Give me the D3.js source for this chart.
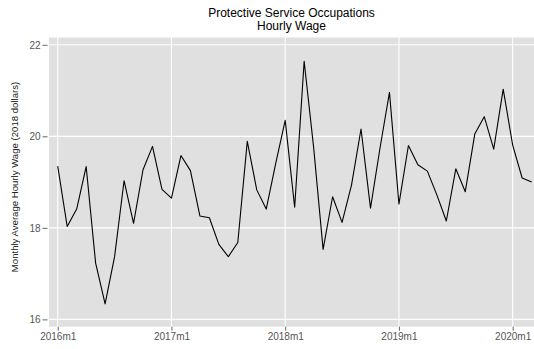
<!DOCTYPE html>
<html>
<head>
<meta charset="utf-8">
<script src="https://cdn.jsdelivr.net/npm/d3@7"></script>
<style>
  body { margin: 0; background: #fff; }
  text { font-family: "Liberation Sans", Arial, Helvetica, sans-serif; }
</style>
</head>
<body>
<svg id="chart" width="534" height="349"></svg>
<script>
// Months from 2016m1 to 2020m3
const months = [
  "2016m1","2016m2","2016m3","2016m4","2016m5","2016m6","2016m7","2016m8","2016m9","2016m10","2016m11","2016m12",
  "2017m1","2017m2","2017m3","2017m4","2017m5","2017m6","2017m7","2017m8","2017m9","2017m10","2017m11","2017m12",
  "2018m1","2018m2","2018m3","2018m4","2018m5","2018m6","2018m7","2018m8","2018m9","2018m10","2018m11","2018m12",
  "2019m1","2019m2","2019m3","2019m4","2019m5","2019m6","2019m7","2019m8","2019m9","2019m10","2019m11","2019m12",
  "2020m1","2020m2","2020m3"
];
const wages = [
  19.35, 18.03, 18.41, 19.34, 17.23, 16.34, 17.37, 19.03, 18.10, 19.27, 19.78, 18.84,
  18.65, 19.58, 19.25, 18.26, 18.22, 17.64, 17.37, 17.68, 19.89, 18.83, 18.41, 19.41,
  20.35, 18.45, 21.64, 19.76, 17.53, 18.68, 18.12, 18.94, 20.16, 18.43, 19.74, 20.96,
  18.52, 19.80, 19.38, 19.24, 18.72, 18.15, 19.29, 18.79, 20.05, 20.43, 19.72, 21.03,
  19.81, 19.09, 19.00
];
const xTickLabels = ["2016m1","2017m1","2018m1","2019m1","2020m1"];
const yTicks = [16, 18, 20, 22];
const titleLines = ["Protective Service Occupations", "Hourly Wage"];
const yLabel = "Monthly Average Hourly Wage (2018 dollars)";

const svg = d3.select("#chart");
const panel = { left: 49, right: 534, top: 37.5, bottom: 326.7 };

const x = d3.scaleLinear().domain([-0.92, 50.25]).range([panel.left, panel.right]);
const y = d3.scaleLinear().domain([15.84, 22.16]).range([panel.bottom, panel.top]);

// Panel background
svg.append("rect")
  .attr("x", panel.left).attr("y", panel.top)
  .attr("width", panel.right - panel.left).attr("height", panel.bottom - panel.top)
  .attr("fill", "#e0e0e0");

const xTickIdx = xTickLabels.map(l => months.indexOf(l));

// Grid lines
svg.append("g").selectAll("line").data(yTicks).join("line")
  .attr("x1", panel.left).attr("x2", panel.right)
  .attr("y1", d => y(d)).attr("y2", d => y(d))
  .attr("stroke", "#fff").attr("stroke-width", 1.1);
svg.append("g").selectAll("line").data(xTickIdx).join("line")
  .attr("y1", panel.top).attr("y2", panel.bottom)
  .attr("x1", d => x(d)).attr("x2", d => x(d))
  .attr("stroke", "#fff").attr("stroke-width", 1.1);

// Axes
const xAxis = d3.axisBottom(x).tickValues(xTickIdx).tickFormat(i => months[i]).tickSize(4).tickPadding(2);
const gx = svg.append("g").attr("transform", `translate(0,${panel.bottom})`).call(xAxis);
gx.select(".domain").remove();
gx.selectAll(".tick line").attr("stroke", "#666");
gx.selectAll(".tick text").attr("fill", "#555").attr("font-size", 10)
  .attr("font-family", "Liberation Sans, Arial, sans-serif");

const yAxis = d3.axisLeft(y).tickValues(yTicks).tickFormat(d3.format("d")).tickSize(5).tickPadding(2);
const gy = svg.append("g").attr("transform", `translate(${panel.left - 1.5},0)`).call(yAxis);
gy.select(".domain").remove();
gy.selectAll(".tick line").attr("stroke", "#666");
gy.selectAll(".tick text").attr("fill", "#555").attr("font-size", 10)
  .attr("font-family", "Liberation Sans, Arial, sans-serif");

// Line
const line = d3.line().x((d, i) => x(i)).y(d => y(d));
svg.append("path").datum(wages)
  .attr("d", line)
  .attr("fill", "none")
  .attr("stroke", "#000")
  .attr("stroke-width", 1.1)
  .attr("stroke-linejoin", "round");

// Title
svg.append("g").selectAll("text").data(titleLines).join("text")
  .attr("x", (panel.left + panel.right) / 2)
  .attr("y", (d, i) => 16.6 + i * 13.4)
  .attr("text-anchor", "middle")
  .attr("font-size", 12)
  .attr("fill", "#000")
  .text(d => d);

// Y label
svg.append("text")
  .attr("transform", `translate(18,177) rotate(-90)`)
  .attr("text-anchor", "middle")
  .attr("font-size", 9.6)
  .attr("fill", "#222")
  .text(yLabel);
</script>
</body>
</html>
